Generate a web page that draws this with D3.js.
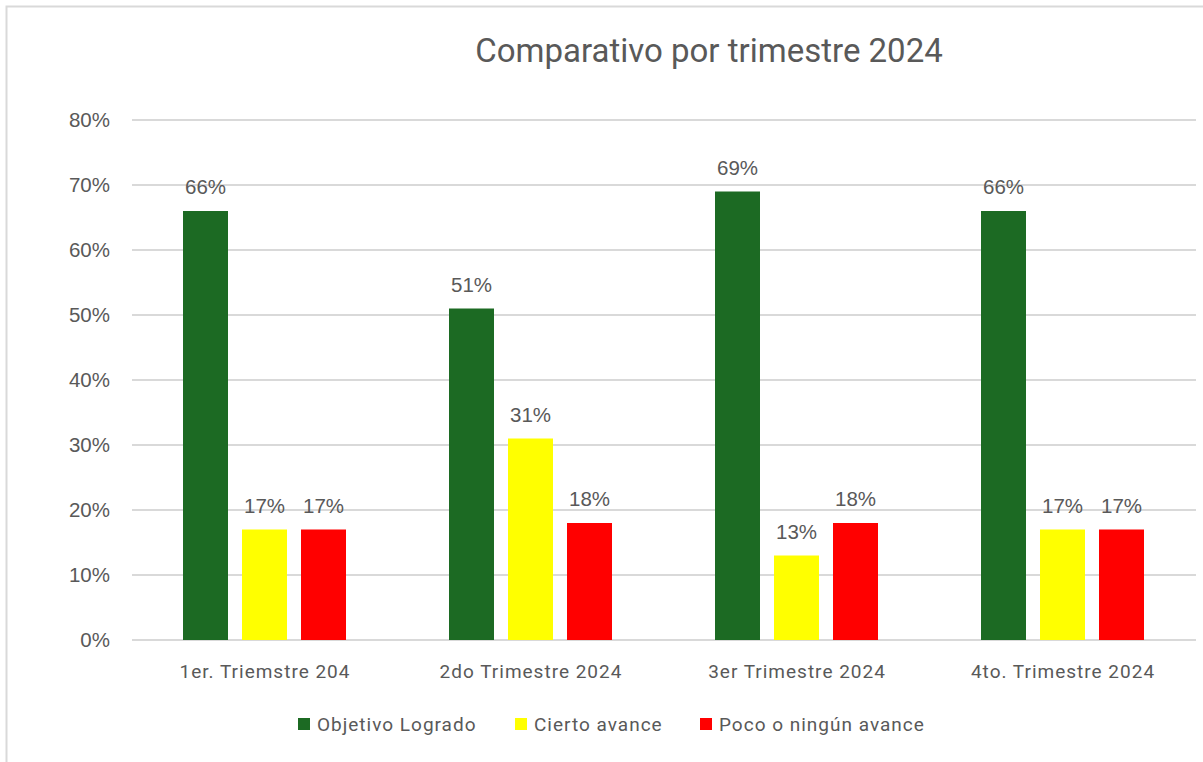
<!DOCTYPE html>
<html>
<head>
<meta charset="utf-8">
<script src="https://cdn.jsdelivr.net/npm/d3@7"></script>
<style>
  body { margin: 0; background: #fff; }
  svg text { fill: #595959; }
</style>
</head>
<body>
<div id="chart"></div>
<script>
"use strict";

const categories = ["1er. Triemstre 204", "2do Trimestre 2024", "3er Trimestre 2024", "4to. Trimestre 2024"];
const seriesNames = ["Objetivo Logrado", "Cierto avance", "Poco o ningún avance"];
const seriesColors = ["#1c6a23", "#ffff00", "#ff0000"];
const objetivo = [0.66, 0.51, 0.69, 0.66];
const cierto = [0.17, 0.31, 0.13, 0.17];
const poco = [0.17, 0.18, 0.18, 0.17];
const yTicks = [0, 0.1, 0.2, 0.3, 0.4, 0.5, 0.6, 0.7, 0.8];

const msm = {
    width: 1203,
    height: 762,
    left: 132,
    right: 1196,
    top: 120,
    bottom: 640
}

const svg = d3.select("#chart").append("svg")
    .attr("width", msm.width)
    .attr("height", msm.height);

// chart frame (only left and top edges show in the picture)
svg.append("path")
    .attr("d", "M6.5,762 V6.5 H1203")
    .attr("fill", "none")
    .attr("stroke", "#d9d9d9")
    .attr("stroke-width", 2);

// title
svg.append("text")
    .attr("x", 709)
    .attr("y", 62)
    .attr("text-anchor", "middle")
    .style("font-family", "Roboto, 'Open Sans', sans-serif")
    .style("font-size", "33px")
    .text("Comparativo por trimestre 2024");

const x0 = d3.scaleBand()
    .domain(categories)
    .range([msm.left, msm.right])
    .paddingInner(0)
    .paddingOuter(0);

const x1 = d3.scaleBand()
    .domain(seriesNames)
    .range([51, 51 + 163])
    .paddingInner(14 / 59);

const y = d3.scaleLinear()
    .domain([0, 0.8])
    .range([msm.bottom, msm.top]);

// gridlines
svg.append("g")
    .selectAll("line")
    .data(yTicks)
    .enter()
    .append("line")
    .attr("x1", msm.left)
    .attr("x2", msm.right)
    .attr("y1", d => y(d))
    .attr("y2", d => y(d))
    .attr("stroke", "#d9d9d9")
    .attr("stroke-width", 2);

// y axis labels
const yAxis = d3.axisLeft(y)
    .tickValues(yTicks)
    .tickFormat(d3.format(".0%"))
    .tickSize(0)
    .tickPadding(22);
const yG = svg.append("g")
    .attr("transform", "translate(" + msm.left + ",0)")
    .call(yAxis);
yG.select(".domain").remove();
yG.selectAll("text")
    .style("font-family", "'Liberation Sans', Arial, sans-serif")
    .style("font-size", "20.5px")
    .attr("fill", "#595959");

// x axis labels
const xAxis = d3.axisBottom(x0).tickSize(0).tickPadding(25);
const xG = svg.append("g")
    .attr("transform", "translate(0," + msm.bottom + ")")
    .call(xAxis);
xG.select(".domain").remove();
xG.selectAll("text")
    .style("font-family", "Roboto, 'Open Sans', sans-serif")
    .style("font-size", "19px")
    .style("letter-spacing", "1px")
    .attr("fill", "#595959");

// bars
const rows = categories.map((c, i) => ({
    cat: c,
    vals: [objetivo[i], cierto[i], poco[i]]
}));

const groups = svg.selectAll(".grp")
    .data(rows)
    .enter()
    .append("g")
    .attr("class", "grp")
    .attr("transform", d => "translate(" + x0(d.cat) + ",0)");

groups.selectAll("rect")
    .data(d => d.vals.map((v, j) => ({ name: seriesNames[j], v: v, j: j })))
    .enter()
    .append("rect")
    .attr("x", d => x1(d.name))
    .attr("y", d => y(d.v))
    .attr("width", x1.bandwidth())
    .attr("height", d => y(0) - y(d.v))
    .attr("fill", d => seriesColors[d.j]);

groups.selectAll("text.lbl")
    .data(d => d.vals.map((v, j) => ({ name: seriesNames[j], v: v, j: j })))
    .enter()
    .append("text")
    .attr("class", "lbl")
    .attr("x", d => x1(d.name) + x1.bandwidth() / 2)
    .attr("y", d => y(d.v) - 17)
    .attr("text-anchor", "middle")
    .style("font-family", "'Liberation Sans', Arial, sans-serif")
    .style("font-size", "20.5px")
    .text(d => d3.format(".0%")(d.v));

// legend
const legendX = [298, 515, 700];
const legend = svg.selectAll(".legend")
    .data(seriesNames)
    .enter()
    .append("g")
    .attr("class", "legend")
    .attr("transform", (d, i) => "translate(" + legendX[i] + ",718)");

legend.append("rect")
    .attr("width", 12)
    .attr("height", 12)
    .attr("fill", (d, i) => seriesColors[i]);

legend.append("text")
    .attr("x", 19)
    .attr("y", 13)
    .style("font-family", "Roboto, 'Open Sans', sans-serif")
    .style("font-size", "19px")
    .style("letter-spacing", "1px")
    .text(d => d);
</script>
</body>
</html>
